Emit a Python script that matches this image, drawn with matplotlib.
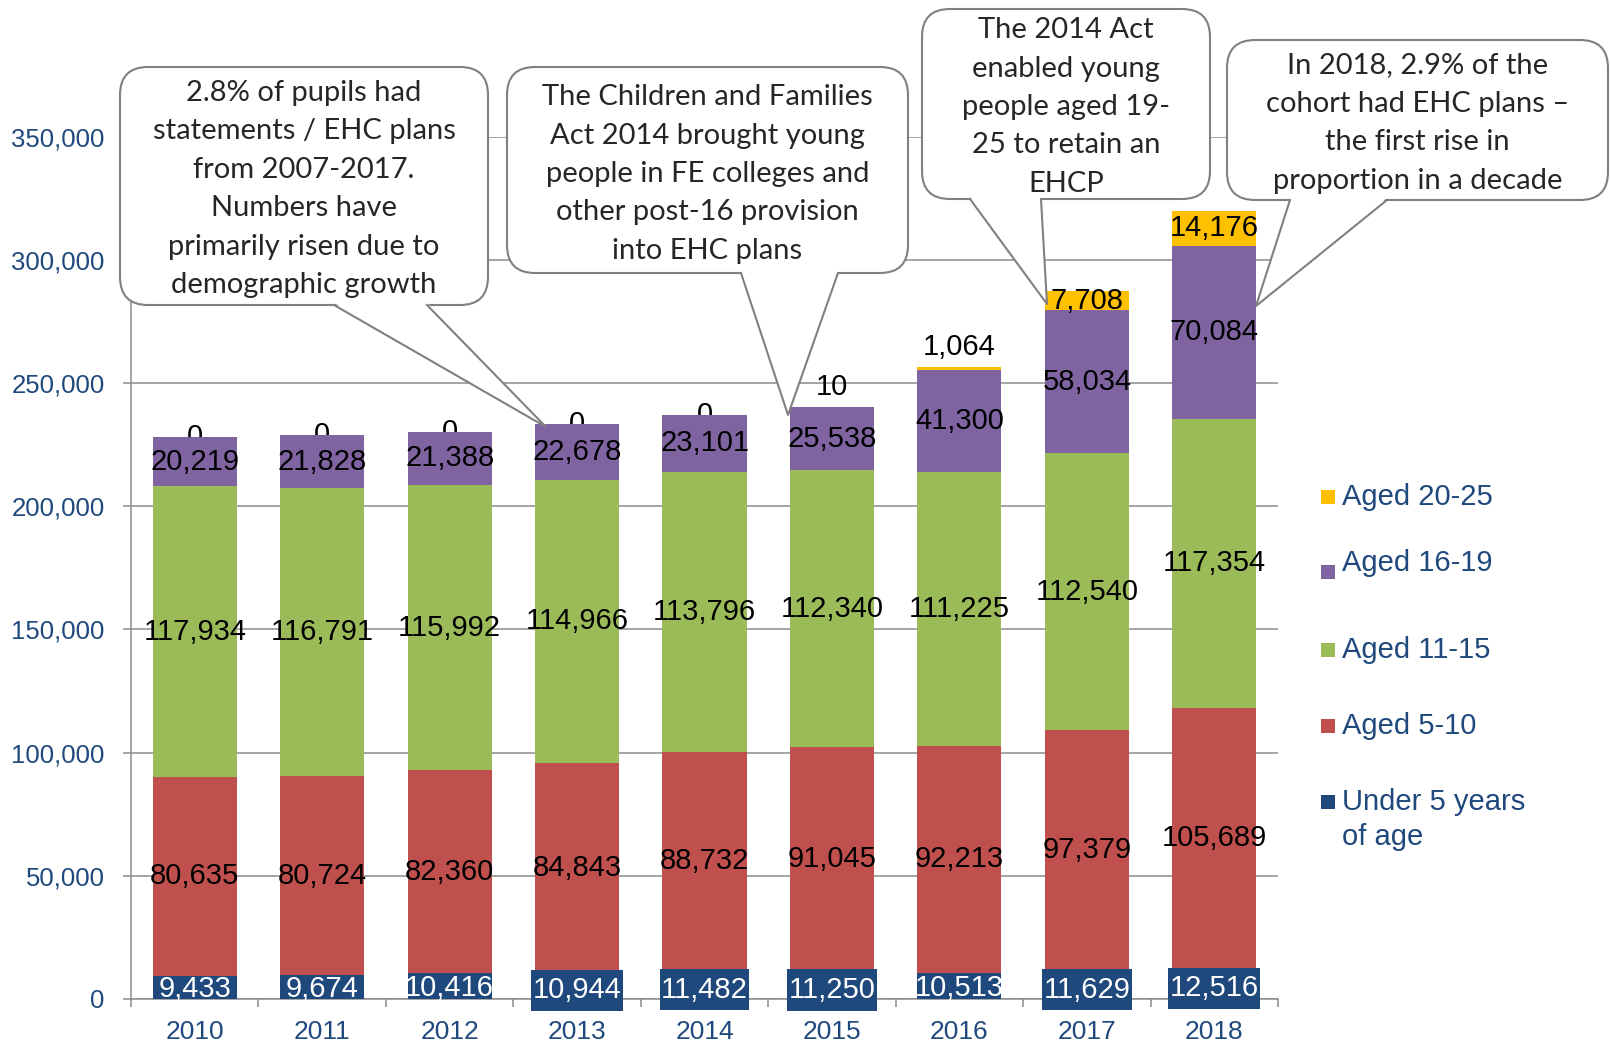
import matplotlib
matplotlib.use('Agg')
import matplotlib.pyplot as plt
from matplotlib.patches import FancyBboxPatch, Polygon, Rectangle
from matplotlib.ticker import FuncFormatter
import numpy as np

plt.rcParams['font.family'] = ['Liberation Sans', 'DejaVu Sans']

# pupils with statements / EHC plans, by age group
years = ['2010', '2011', '2012', '2013', '2014', '2015', '2016', '2017', '2018']
under_5 = [9433, 9674, 10416, 10944, 11482, 11250, 10513, 11629, 12516]
aged_5_10 = [80635, 80724, 82360, 84843, 88732, 91045, 92213, 97379, 105689]
aged_11_15 = [117934, 116791, 115992, 114966, 113796, 112340, 111225, 112540, 117354]
aged_16_19 = [20219, 21828, 21388, 22678, 23101, 25538, 41300, 58034, 70084]
aged_20_25 = [0, 0, 0, 0, 0, 10, 1064, 7708, 14176]

NAVY = '#1F497D'
RED = '#C0504D'
GREEN = '#9BBB59'
PURPLE = '#8064A2'
YELLOW = '#FFC000'
GRID = '#8c8c8c'
CALLOUT_GRAY = '#808080'

layers = [
    ('Under 5 years\nof age', under_5, NAVY),
    ('Aged 5-10', aged_5_10, RED),
    ('Aged 11-15', aged_11_15, GREEN),
    ('Aged 16-19', aged_16_19, PURPLE),
    ('Aged 20-25', aged_20_25, YELLOW),
]

# years where the under-5 label sits in a filled box
boxed_under5 = {'2013', '2014', '2015', '2017', '2018'}

fig = plt.figure(figsize=(16.1, 10.43), dpi=100)
ax = fig.add_axes([0.0814, 0.0422, 0.7124, 0.8268])

x = np.arange(len(years))
bottom = np.zeros(len(years))
lab_fs = 21

for i, (name, vals, col) in enumerate(layers):
    vals = np.array(vals, dtype=float)
    ax.bar(x, vals, 0.66, bottom=bottom, color=col, zorder=3, linewidth=0)
    for j, v in enumerate(vals):
        txt = '{:,}'.format(int(v))
        mid = bottom[j] + v / 2
        if i == 0:
            kw = dict(color='white')
            y = mid - 800
            if years[j] in boxed_under5:
                kw['bbox'] = dict(boxstyle='square,pad=0.05', fc=NAVY, ec='none',
                                  mutation_aspect=4.5)
                y = mid - 2000
            ax.text(j, y, txt, ha='center', va='center', fontsize=lab_fs,
                    zorder=6, clip_on=False, **kw)
        elif i == 4:
            top = bottom[j] + v
            if v == 0:
                ax.text(j, top, txt, ha='center', va='center', fontsize=lab_fs,
                        zorder=2.5)
            elif v < 3000:
                ax.text(j, top + 2500, txt, ha='center', va='bottom',
                        fontsize=lab_fs, zorder=6)
            else:
                ax.text(j, mid, txt, ha='center', va='center', fontsize=lab_fs,
                        zorder=6)
        else:
            ax.text(j, mid, txt, ha='center', va='center', fontsize=lab_fs,
                    zorder=6)
    bottom = bottom + vals

ax.set_xlim(-0.5, len(years) - 0.5)
ax.set_ylim(0, 350000)
ax.set_yticks(range(0, 350001, 50000))
ax.yaxis.set_major_formatter(FuncFormatter(lambda v, p: '{:,}'.format(int(v))))
ax.set_xticks(x)
ax.set_xticklabels(years)
ax.set_xticks(np.arange(-0.5, len(years)), minor=True)
ax.grid(axis='y', color=GRID, linewidth=1.1, zorder=0)
ax.set_axisbelow(True)
for s in ['top', 'right']:
    ax.spines[s].set_visible(False)
for s in ['left', 'bottom']:
    ax.spines[s].set_color(GRID)
    ax.spines[s].set_linewidth(1.1)
ax.tick_params(axis='x', which='major', length=0, pad=15, labelsize=19,
               labelcolor=NAVY)
ax.tick_params(axis='x', which='minor', length=6, width=1.1, color=GRID)
ax.tick_params(axis='y', length=6, width=1.1, color=GRID, pad=13,
               labelsize=18.5, labelcolor=NAVY)

# overlay in pixel coordinates for callouts and legend
ov = fig.add_axes([0, 0, 1, 1], zorder=5)
ov.set_xlim(0, 1610)
ov.set_ylim(1043, 0)
ov.axis('off')


def callout(box, base, tip, lines, cy):
    x0, y0, x1, y1 = box
    ov.add_patch(FancyBboxPatch((x0, y0), x1 - x0, y1 - y0,
                                boxstyle='round,pad=0,rounding_size=28',
                                fc='white', ec=CALLOUT_GRAY, lw=1.5, zorder=1))
    (bx1, by), (bx2, _) = base
    ov.add_patch(Polygon([(bx1, by - 2), tip, (bx2, by - 2)], closed=True,
                         fc='white', ec='none', zorder=2))
    ov.plot([bx1, tip[0], bx2], [by, tip[1], by], color=CALLOUT_GRAY, lw=1.5,
            zorder=3)
    cx = (x0 + x1) / 2
    n = len(lines)
    for k, line in enumerate(lines):
        ov.text(cx, cy + (k - (n - 1) / 2) * 38.4, line, ha='center',
                va='center', fontsize=21, family=['Lato', 'DejaVu Sans'],
                color='#262626', zorder=4)


callout((120, 67, 488, 305), [(334, 305), (427, 305)], (546, 427),
        ['2.8% of pupils had', 'statements / EHC plans', 'from 2007-2017.',
         'Numbers have', 'primarily risen due to', 'demographic growth'], 189)
callout((507, 67, 908, 273), [(741, 273), (838, 273)], (788, 415),
        ['The Children and Families', 'Act 2014 brought young',
         'people in FE colleges and', 'other post-16 provision',
         'into EHC plans'], 174)
callout((922, 9, 1210, 199), [(970, 199), (1041, 199)], (1047, 304),
        ['The 2014 Act', 'enabled young', 'people aged 19-', '25 to retain an',
         'EHCP'], 107)
callout((1227, 40, 1608, 200), [(1290, 200), (1387, 200)], (1256, 306),
        ['In 2018, 2.9% of the', 'cohort had EHC plans \u2013',
         'the first rise in', 'proportion in a decade'], 123)

# legend, top entry first
legend_rows = [('Aged 20-25', YELLOW, 497, 497),
               ('Aged 16-19', PURPLE, 563, 572),
               ('Aged 11-15', GREEN, 650, 650),
               ('Aged 5-10', RED, 726, 726),
               ('Under 5 years', NAVY, 802, 802)]
for name, col, ty, my in legend_rows:
    ov.add_patch(Rectangle((1321, my - 7), 14, 14, fc=col, ec='none'))
    ov.text(1342, ty, name, ha='left', va='center', fontsize=21, color=NAVY)
ov.text(1342, 837, 'of age', ha='left', va='center', fontsize=21, color=NAVY)

fig.savefig('out.png', dpi=100)
